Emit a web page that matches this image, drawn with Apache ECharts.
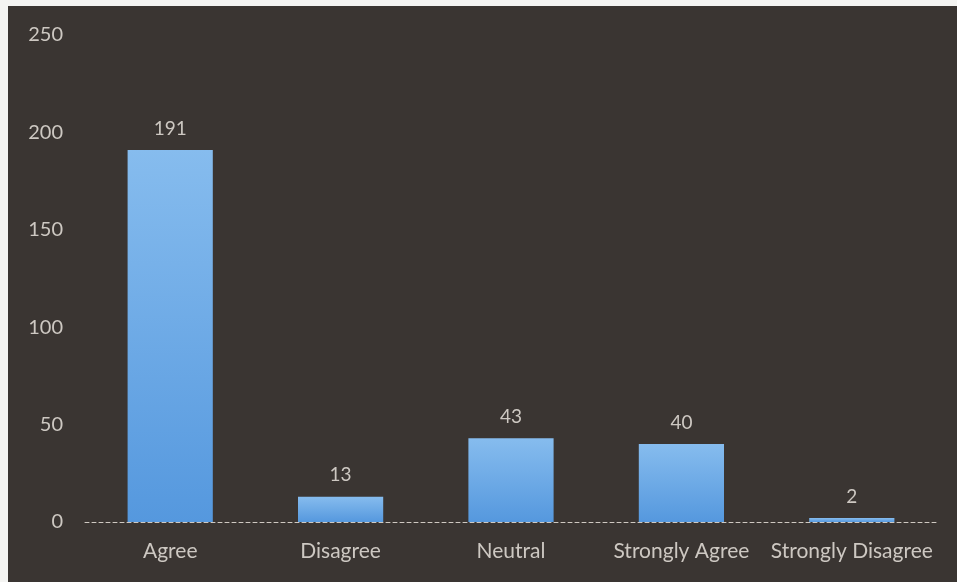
<!DOCTYPE html>
<html>
<head>
<meta charset="utf-8">
<script src="https://cdn.jsdelivr.net/npm/echarts@6/dist/echarts.min.js"></script>
<style>
html,body{margin:0;padding:0;background:#f4f4f2;width:957px;height:582px;overflow:hidden;}
#chart{position:absolute;left:8px;top:6px;width:949px;height:576px;}
</style>
</head>
<body>
<div id="chart"></div>
<script>
var categories = ["Agree", "Disagree", "Neutral", "Strongly Agree", "Strongly Disagree"];
var values = [191, 13, 43, 40, 2];
var yTicks = [0, 50, 100, 150, 200, 250];

var chart = echarts.init(document.getElementById('chart'));
chart.setOption({
  backgroundColor: '#3a3532',
  animation: false,
  grid: {left: 77, right: 20, top: 29, bottom: 60},
  xAxis: {
    type: 'category',
    data: categories,
    axisTick: {show: false},
    axisLine: {lineStyle: {color: '#cfc9c2', type: [4, 3], width: 1}},
    axisLabel: {color: '#cdc8c2', fontFamily: 'Lato', fontSize: 21, margin: 19, interval: 0}
  },
  yAxis: {
    type: 'value',
    min: yTicks[0],
    max: yTicks[yTicks.length - 1],
    interval: 50,
    axisLine: {show: false},
    axisTick: {show: false},
    splitLine: {show: false},
    axisLabel: {color: '#cdc8c2', fontFamily: 'Lato', fontSize: 20, margin: 22}
  },
  series: [{
    type: 'bar',
    data: values,
    barWidth: '50%',
    itemStyle: {
      color: new echarts.graphic.LinearGradient(0, 0, 0, 1, [
        {offset: 0, color: '#86bcee'},
        {offset: 1, color: '#5598de'}
      ])
    },
    label: {
      show: true,
      position: 'top',
      distance: 12,
      color: '#cdc8c2',
      fontFamily: 'Lato',
      fontSize: 19
    }
  }]
});
</script>
</body>
</html>
